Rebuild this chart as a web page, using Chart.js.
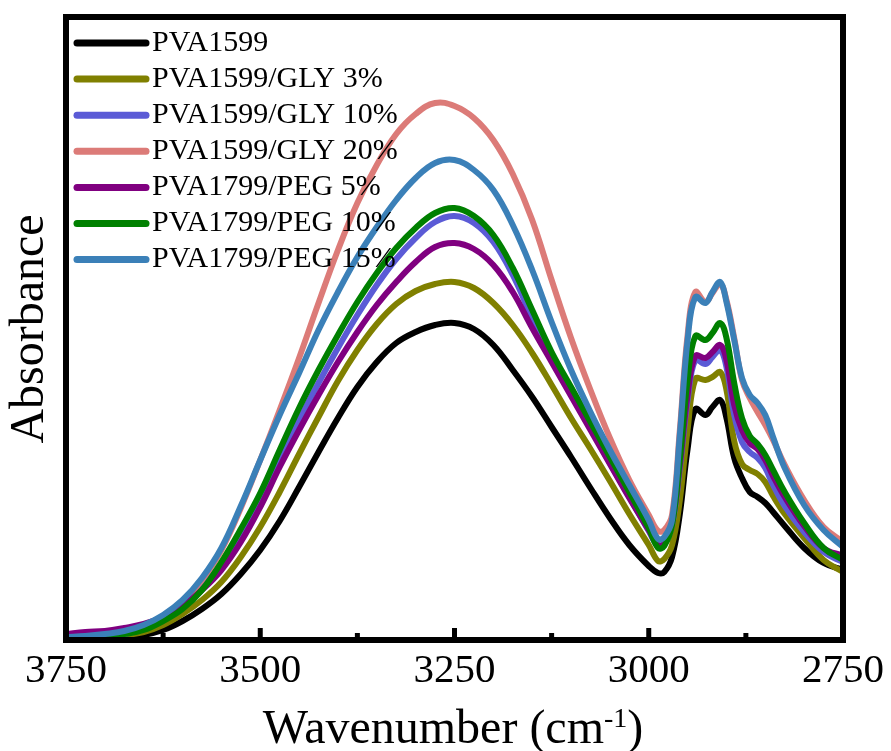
<!DOCTYPE html>
<html>
<head>
<meta charset="utf-8">
<script src="https://cdn.jsdelivr.net/npm/chart.js@4.4.1/dist/chart.umd.min.js"></script>
<style>
  html, body { margin: 0; padding: 0; background: #fff; }
  #spectra { display: block; }
</style>
</head>
<body>
<canvas id="spectra" width="891" height="751"></canvas>
<script>
// FTIR spectra (absorbance in arbitrary units)
const wavenumbers = [3750, 3725, 3700, 3675, 3650, 3625, 3600, 3575, 3550, 3525,
    3500, 3475, 3450, 3425, 3400, 3375, 3350, 3325, 3300, 3275,
    3250, 3225, 3200, 3175, 3150, 3125, 3100, 3075, 3050, 3025,
    3000, 2988, 2980, 2970, 2960, 2950, 2940, 2927, 2918, 2908,
    2900, 2890, 2880, 2870, 2860, 2850, 2840, 2825, 2800, 2775, 2750];

const pva1599 = [0.003, 0.003, 0.003, 0.003, 0.005, 0.010, 0.019, 0.031, 0.046, 0.066,
    0.090, 0.119, 0.153, 0.188, 0.222, 0.253, 0.278, 0.297, 0.308, 0.315,
    0.317, 0.311, 0.295, 0.270, 0.243, 0.213, 0.183, 0.152, 0.122, 0.095,
    0.074, 0.067, 0.068, 0.083, 0.126, 0.191, 0.231, 0.225, 0.233, 0.240,
    0.222, 0.182, 0.162, 0.148, 0.143, 0.137, 0.128, 0.114, 0.092, 0.077, 0.070];

const gly3 = [0.003, 0.003, 0.004, 0.005, 0.008, 0.015, 0.026, 0.040, 0.058, 0.083,
    0.113, 0.148, 0.186, 0.223, 0.259, 0.290, 0.316, 0.336, 0.349, 0.356,
    0.358, 0.352, 0.337, 0.315, 0.287, 0.255, 0.222, 0.191, 0.159, 0.126,
    0.095, 0.079, 0.081, 0.095, 0.140, 0.210, 0.261, 0.260, 0.263, 0.268,
    0.250, 0.199, 0.176, 0.170, 0.166, 0.158, 0.144, 0.126, 0.102, 0.080, 0.068];

const gly10 = [0.003, 0.003, 0.004, 0.006, 0.011, 0.020, 0.035, 0.055, 0.075, 0.103,
    0.140, 0.182, 0.220, 0.257, 0.292, 0.325, 0.355, 0.381, 0.402, 0.418,
    0.424, 0.417, 0.398, 0.365, 0.322, 0.283, 0.247, 0.212, 0.177, 0.143,
    0.109, 0.094, 0.096, 0.115, 0.172, 0.240, 0.280, 0.276, 0.283, 0.290,
    0.273, 0.225, 0.198, 0.188, 0.182, 0.172, 0.155, 0.134, 0.108, 0.088, 0.078];

const gly20 = [0.003, 0.003, 0.004, 0.007, 0.012, 0.022, 0.038, 0.060, 0.090, 0.132,
    0.180, 0.230, 0.282, 0.337, 0.390, 0.437, 0.475, 0.506, 0.526, 0.537,
    0.534, 0.522, 0.500, 0.466, 0.420, 0.360, 0.302, 0.250, 0.202, 0.160,
    0.125, 0.109, 0.110, 0.125, 0.210, 0.305, 0.348, 0.338, 0.347, 0.356,
    0.340, 0.302, 0.260, 0.242, 0.228, 0.215, 0.200, 0.175, 0.140, 0.113, 0.098];

const peg5 = [0.006, 0.008, 0.009, 0.012, 0.016, 0.023, 0.034, 0.050, 0.070, 0.098,
    0.133, 0.173, 0.210, 0.245, 0.278, 0.308, 0.335, 0.358, 0.378, 0.393,
    0.397, 0.391, 0.375, 0.348, 0.312, 0.278, 0.244, 0.210, 0.176, 0.142,
    0.110, 0.095, 0.097, 0.117, 0.175, 0.245, 0.284, 0.282, 0.288, 0.295,
    0.280, 0.235, 0.210, 0.197, 0.191, 0.180, 0.164, 0.143, 0.114, 0.092, 0.084];

const peg10 = [0.003, 0.003, 0.004, 0.006, 0.010, 0.019, 0.031, 0.050, 0.078, 0.111,
    0.147, 0.190, 0.232, 0.270, 0.305, 0.338, 0.367, 0.392, 0.412, 0.427,
    0.432, 0.424, 0.405, 0.372, 0.330, 0.288, 0.253, 0.218, 0.183, 0.148,
    0.112, 0.092, 0.094, 0.115, 0.180, 0.260, 0.304, 0.300, 0.307, 0.317,
    0.302, 0.257, 0.222, 0.204, 0.196, 0.185, 0.170, 0.148, 0.117, 0.092, 0.080];

const peg15 = [0.003, 0.004, 0.006, 0.009, 0.015, 0.025, 0.040, 0.062, 0.092, 0.134,
    0.180, 0.225, 0.267, 0.310, 0.348, 0.383, 0.413, 0.440, 0.462, 0.477,
    0.480, 0.470, 0.450, 0.415, 0.370, 0.318, 0.270, 0.228, 0.190, 0.155,
    0.120, 0.101, 0.103, 0.120, 0.205, 0.300, 0.343, 0.337, 0.348, 0.358,
    0.338, 0.300, 0.262, 0.245, 0.237, 0.225, 0.203, 0.172, 0.135, 0.110, 0.093];

const seriesNames = ['PVA1599', 'PVA1599/GLY 3%', 'PVA1599/GLY 10%', 'PVA1599/GLY 20%',
    'PVA1799/PEG 5%', 'PVA1799/PEG 10%', 'PVA1799/PEG 15%'];
const seriesValues = [pva1599, gly3, gly10, gly20, peg5, peg10, peg15];
const colors = ['#000000', '#808000', '#5b5bd6', '#dc7b78', '#800080', '#008000', '#3b80b8'];

const xTicks = [3750, 3500, 3250, 3000, 2750];
const xMinorTicks = [3625, 3375, 3125, 2875];

const serif = "'Liberation Serif', 'Times New Roman', serif";

const datasets = seriesNames.map((name, i) => ({
    label: name,
    data: wavenumbers.map((w, j) => ({ x: w, y: seriesValues[i][j] })),
    borderColor: colors[i],
    borderWidth: 6,
    pointRadius: 0,
    tension: 0.4,
    borderCapStyle: 'round',
    borderJoinStyle: 'round',
    fill: false,
    order: seriesNames.length - i   // last series ends up on top
}));

// box, inward ticks, legend and axis titles
const decorations = {
    id: 'decorations',
    afterDatasetsDraw(chart) {
        const { ctx, chartArea: a } = chart;
        const x = chart.scales.x;
        ctx.save();

        ctx.strokeStyle = '#000';
        ctx.lineWidth = 6;
        ctx.strokeRect(a.left, a.top, a.right - a.left, a.bottom - a.top);

        ctx.lineWidth = 5;
        ctx.lineCap = 'butt';
        xTicks.forEach(v => {
            const px = x.getPixelForValue(v);
            ctx.beginPath();
            ctx.moveTo(px, a.bottom);
            ctx.lineTo(px, a.bottom - 12);
            ctx.stroke();
        });
        xMinorTicks.forEach(v => {
            const px = x.getPixelForValue(v);
            ctx.beginPath();
            ctx.moveTo(px, a.bottom);
            ctx.lineTo(px, a.bottom - 7);
            ctx.stroke();
        });

        // legend
        ctx.font = '30px ' + serif;
        ctx.textBaseline = 'middle';
        ctx.textAlign = 'left';
        chart.data.datasets.forEach((ds, i) => {
            const y = 43 + i * 36.1;
            ctx.strokeStyle = ds.borderColor;
            ctx.lineWidth = 7;
            ctx.lineCap = 'round';
            ctx.beginPath();
            ctx.moveTo(77, y);
            ctx.lineTo(146, y);
            ctx.stroke();
            ctx.fillStyle = '#000';
            ctx.fillText(ds.label, 152, y);
        });

        // y title
        ctx.save();
        ctx.translate(43, 329);
        ctx.rotate(-Math.PI / 2);
        ctx.font = '48px ' + serif;
        ctx.textAlign = 'center';
        ctx.textBaseline = 'alphabetic';
        ctx.fillText('Absorbance', 0, 0);
        ctx.restore();

        // x title with superscript
        const main = 'Wavenumber (cm', sup = '-1', close = ')';
        ctx.textBaseline = 'alphabetic';
        ctx.font = '48px ' + serif;
        const w1 = ctx.measureText(main).width;
        const w3 = ctx.measureText(close).width;
        ctx.font = '28px ' + serif;
        const w2 = ctx.measureText(sup).width;
        let sx = 453 - (w1 + w2 + w3) / 2;
        ctx.font = '48px ' + serif;
        ctx.fillText(main, sx, 743);
        sx += w1;
        ctx.font = '28px ' + serif;
        ctx.fillText(sup, sx, 727);
        sx += w2;
        ctx.font = '48px ' + serif;
        ctx.fillText(close, sx, 743);

        ctx.restore();
    }
};

new Chart(document.getElementById('spectra'), {
    type: 'line',
    data: { datasets },
    options: {
        responsive: false,
        devicePixelRatio: 1,
        animation: false,
        layout: { padding: { left: 66, right: 45, top: 17, bottom: 0 } },
        plugins: {
            legend: { display: false },
            tooltip: { enabled: false }
        },
        scales: {
            x: {
                type: 'linear',
                min: 2750,
                max: 3750,
                reverse: true,
                afterBuildTicks: s => { s.ticks = xTicks.map(v => ({ value: v })); },
                afterFit: s => { s.height = 111; },
                grid: { display: false, drawTicks: false },
                border: { display: false },
                ticks: {
                    color: '#000',
                    padding: 7,
                    maxRotation: 0,
                    autoSkip: false,
                    font: { family: serif, size: 41 },
                    callback: v => String(v)
                }
            },
            y: { display: false, min: 0, max: 0.623 }
        }
    },
    plugins: [decorations]
});
</script>
</body>
</html>
